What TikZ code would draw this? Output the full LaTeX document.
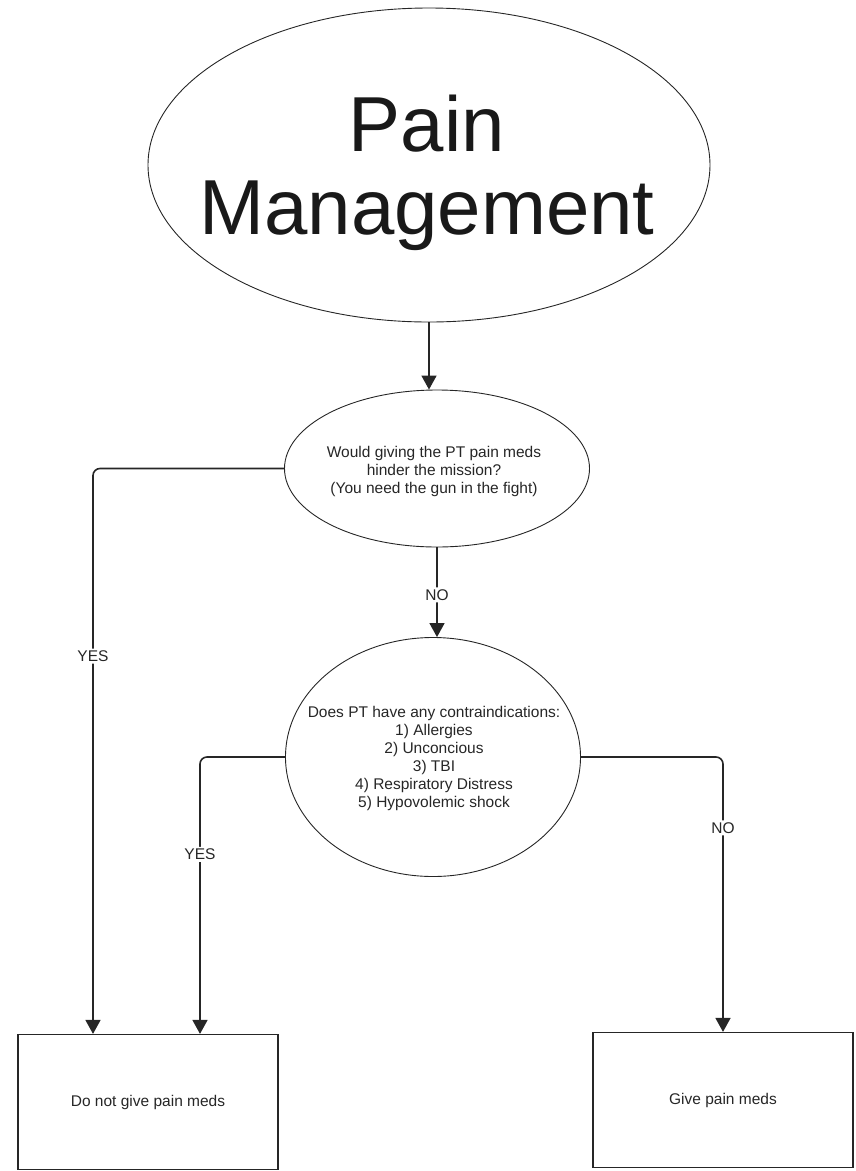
\documentclass[tikz,border=0pt]{standalone}
\usepackage{fontspec}
\setmainfont{Liberation Sans}
\usetikzlibrary{arrows.meta,shapes.geometric}

\begin{document}
\begin{tikzpicture}[x=1pt,y=-1pt,>={Triangle[length=14pt,width=15pt]},
  oval/.style={ellipse,draw=black!85,line width=0.9pt,inner sep=0pt},
  txt/.style={align=center,text=black!85,font=\fontsize{15.5}{18}\selectfont,inner sep=0pt},
  result/.style={draw=black!85,line width=1.2pt,minimum width=260pt,minimum height=135pt,
    text=black!85,font=\fontsize{15.5}{18}\selectfont},
  flow/.style={->,draw=black!85,line width=1.6pt,rounded corners=7pt},
  answer/.style={fill=white,text=black!85,inner sep=2pt,font=\fontsize{15.5}{18}\selectfont}]
  \useasboundingbox (0,0) rectangle (856,1171);

  % title
  \node[oval,minimum width=562pt,minimum height=314pt] (pain) at (429,165) {};
  \node[align=center,text=black!90,font=\fontsize{78}{83}\selectfont,inner sep=0pt]
    (paintxt) at (427,173) {Pain\\Management};

  % questions
  \node[oval,minimum width=305pt,minimum height=157pt] (mission) at (437,468.5) {};
  \node[txt] (missiontxt) at (434,471)
    {Would giving the PT pain meds\\hinder the mission?\\(You need the gun in the fight)};

  \node[oval,minimum width=295pt,minimum height=239pt] (contra) at (433,757) {};
  \node[txt] (contratxt) at (434,758)
    {Does PT have any contraindications:\\1) Allergies\\2) Unconcious\\3) TBI\\
     4) Respiratory Distress\\5) Hypovolemic shock};

  % outcomes
  \node[result] (nomeds) at (148,1102) {Do not give pain meds};
  \node[result] (meds) at (723,1100) {Give pain meds};

  % connectors
  \draw[flow] (pain.south) -- (pain.south |- mission.north);
  \draw[flow] (mission.south) -- (mission.south |- contra.north)
    node[answer,pos=0.53] (no1) {NO};
  \draw[flow] (mission.west) -| ([xshift=-55pt]nomeds.north)
    node[answer,pos=0.666] (yes1) {YES};
  \draw[flow] (contra.west) -| ([xshift=52pt]nomeds.north)
    node[answer,pos=0.676] (yes2) {YES};
  \draw[flow] (contra.east) -| (meds.north)
    node[answer,pos=0.629] (no2) {NO};
\end{tikzpicture}
\end{document}
